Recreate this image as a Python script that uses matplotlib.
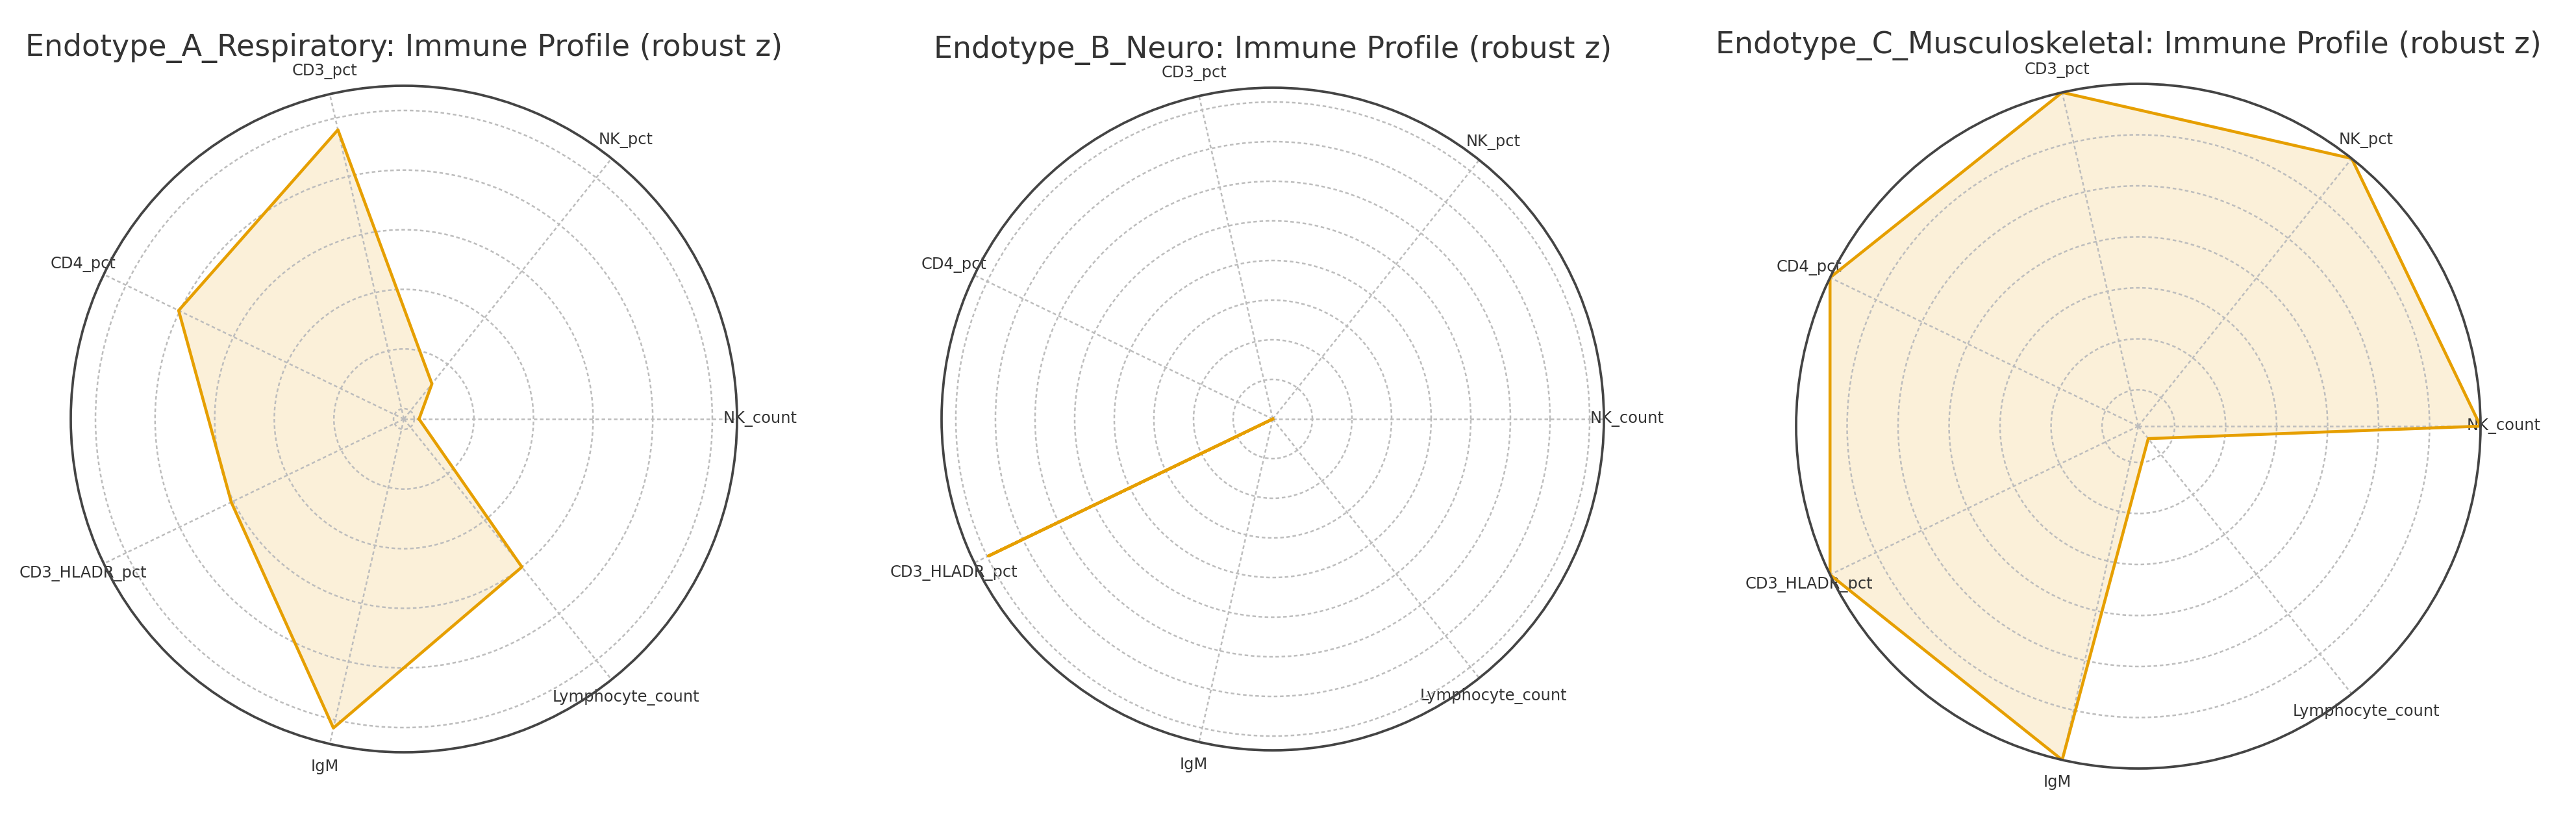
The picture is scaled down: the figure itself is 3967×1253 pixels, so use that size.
import numpy as np
import matplotlib.pyplot as plt

categories = ["NK_count", "NK_pct", "CD3_pct", "CD4_pct", "CD3_HLADR_pct", "IgM", "Lymphocyte_count"]
endotypes = ["Endotype_A_Respiratory", "Endotype_B_Neuro", "Endotype_C_Musculoskeletal"]

# robust z per marker (same order as categories)
vals_a = [-0.46, -0.21, 1.90, 1.51, 1.02, 2.07, 1.00]
vals_b = [0.0, 0.0, 0.0, 0.0, 3.98, 0.0, 0.0]
vals_c = [3.0, 3.0, 3.0, 3.0, 3.0, 3.0, -0.20]

# radial limits of each panel
rlims = [(-0.587, 2.207), (0.0, 4.18), (-0.356, 3.0)]
ring_step = 0.5

W, H, DPI = 3967, 1253, 300
# panel centre x, centre y, radius in pixels
boxes = [(622, 645, 513), (1960, 645, 510), (3293, 656, 527)]
title_x = [0.5, 0.5, 0.486]

line_col = "#E69F00"
text_col = "#333333"

angles = np.linspace(0, 2 * np.pi, len(categories), endpoint=False)
closed = np.concatenate([angles, angles[:1]])

fig = plt.figure(figsize=(W / DPI, H / DPI), dpi=DPI)

for i, (name, vals) in enumerate(zip(endotypes, [vals_a, vals_b, vals_c])):
    lo, hi = rlims[i]
    cx, cy, r = boxes[i]
    ax = fig.add_axes([(cx - r) / W, (H - cy - r) / H, 2 * r / W, 2 * r / H], projection="polar")
    v = np.concatenate([vals, vals[:1]])
    ax.plot(closed, v, color=line_col, linewidth=1.1)
    ax.fill(closed, v, color=line_col, alpha=0.15, linewidth=0)

    ax.set_xticks(angles)
    ax.set_xticklabels(categories, fontsize=5.8, color=text_col)
    ax.tick_params(axis="x", pad=-2)
    ax.set_ylim(lo, hi)
    ax.set_yticks(np.arange(np.ceil(lo / ring_step) * ring_step, hi + 1e-9, ring_step))
    ax.set_yticklabels([])
    ax.grid(color="#bdbdbd", linestyle=(0, (2.2, 1.6)), linewidth=0.6)
    ax.spines["polar"].set_color("#444444")
    ax.spines["polar"].set_linewidth(0.9)
    ax.set_title(f"{name}: Immune Profile (robust z)", fontsize=11, color=text_col,
                 x=title_x[i], y=1.045, pad=0)

fig.savefig("out.png", dpi=DPI, facecolor="white")
